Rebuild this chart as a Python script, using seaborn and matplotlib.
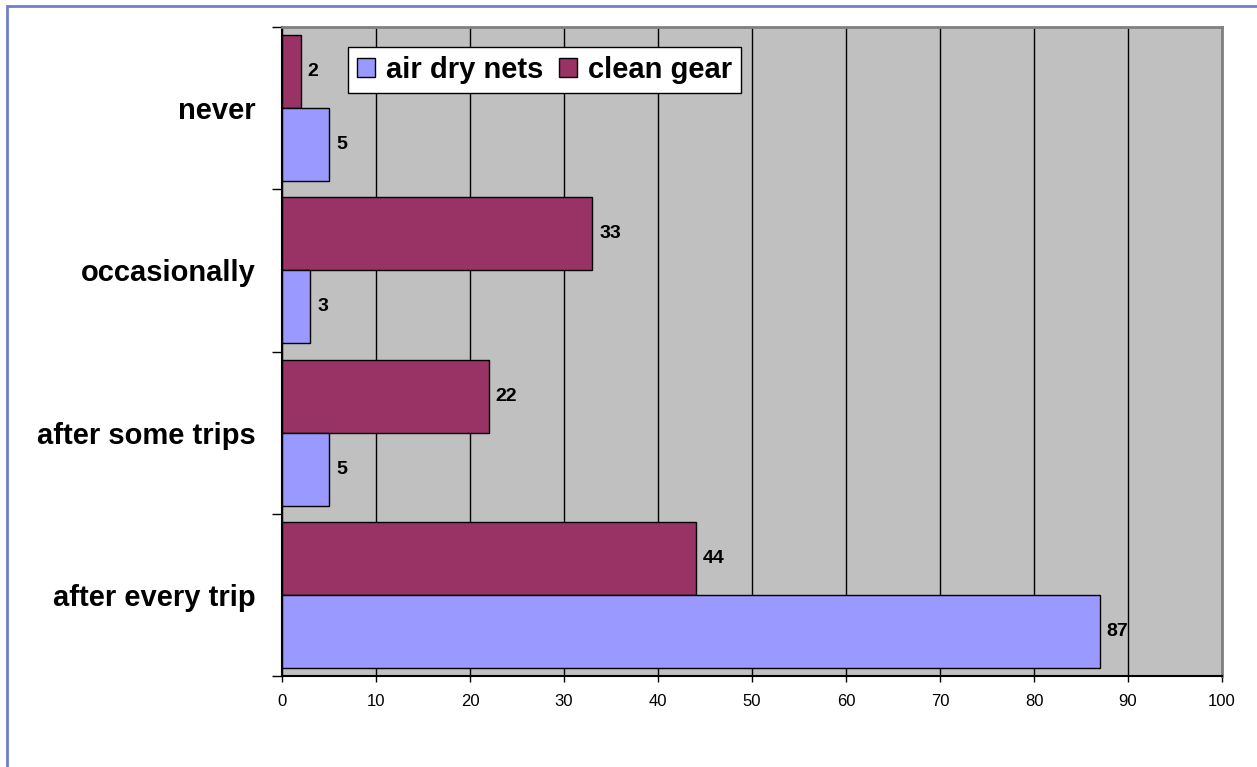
import matplotlib
matplotlib.use("Agg")
import matplotlib.pyplot as plt
from matplotlib.patches import Patch, Rectangle
from matplotlib.ticker import FixedLocator
import numpy as np
import pandas as pd
import seaborn as sns

categories = ["never", "occasionally", "after some trips", "after every trip"]
air_dry_nets = [5, 3, 5, 87]
clean_gear = [2, 33, 22, 44]
series_names = ["air dry nets", "clean gear"]
x_ticks = list(range(0, 101, 10))

colors = {"air dry nets": "#9999FF", "clean gear": "#993366"}

df = pd.DataFrame({
    "category": categories * 2,
    "value": air_dry_nets + clean_gear,
    "series": [series_names[0]] * len(categories) + [series_names[1]] * len(categories),
})

sns.set_style("white")
plt.rcParams["font.family"] = ["Liberation Sans", "DejaVu Sans"]
plt.rcParams.update({
    "text.color": "black",
    "axes.labelcolor": "black",
    "xtick.color": "black",
    "ytick.color": "black",
})

fig = plt.figure(figsize=(12.57, 7.67), dpi=100)
W, H = 1257, 767
ax = fig.add_axes([282 / W, 1 - 676 / H, (1222 - 282) / W, (676 - 27) / H])

sns.barplot(
    data=df, x="value", y="category", hue="series",
    order=categories, hue_order=["clean gear", "air dry nets"],
    palette=colors, orient="h", width=0.9, dodge=True,
    edgecolor="black", linewidth=1, saturation=1, ax=ax, legend=False,
)

ax.set_facecolor("#C0C0C0")
ax.set_xlim(0, 100)
ax.set_ylim(len(categories) - 0.5, -0.5)
ax.set_xticks(x_ticks)
ax.set_xticklabels([str(t) for t in x_ticks], fontsize=12, color="black")
ax.grid(axis="x", color="black", linewidth=1)
ax.set_axisbelow(True)
ax.set_xlabel("")
ax.set_ylabel("")

ax.tick_params(axis="x", which="major", direction="out", length=4, width=1,
               color="black", pad=9, bottom=True)
ax.set_yticks(range(len(categories)))
ax.set_yticklabels(categories, fontsize=21, fontweight="bold", color="black")
ax.tick_params(axis="y", which="major", length=0, pad=19)
ax.yaxis.set_minor_locator(FixedLocator(np.arange(-0.5, len(categories), 1.0)))
ax.tick_params(axis="y", which="minor", direction="out", length=7, width=1,
               color="black", left=True)

for side in ["left", "bottom"]:
    ax.spines[side].set_color("black")
    ax.spines[side].set_linewidth(1.5)
for side in ["top", "right"]:
    ax.spines[side].set_color("#808080")
    ax.spines[side].set_linewidth(2)

for container in ax.containers:
    ax.bar_label(container, fmt="%g", padding=5, fontsize=14,
                 fontweight="bold", color="black")

handles = [Patch(facecolor=colors[s], edgecolor="black", linewidth=1) for s in series_names]
leg = ax.legend(
    handles, series_names, loc="upper left",
    bbox_to_anchor=((348 - 282) / 940, (676 - 47) / 649),
    borderaxespad=0, ncol=2, frameon=True, fancybox=False,
    prop={"size": 21, "weight": "bold"},
    handlelength=0.62, handleheight=0.62, handletextpad=0.38,
    columnspacing=0.55, borderpad=0.3, labelcolor="black",
)
leg.get_frame().set_edgecolor("black")
leg.get_frame().set_linewidth(1)
leg.get_frame().set_facecolor("white")
leg.get_frame().set_alpha(1)

# outer chart border
fig.patches.append(Rectangle((7 / W, -0.05), 1.1, 1 - 6 / H + 0.05,
                             transform=fig.transFigure, fill=False,
                             edgecolor="#7080C8", linewidth=2))

fig.savefig("out.png", dpi=100)
